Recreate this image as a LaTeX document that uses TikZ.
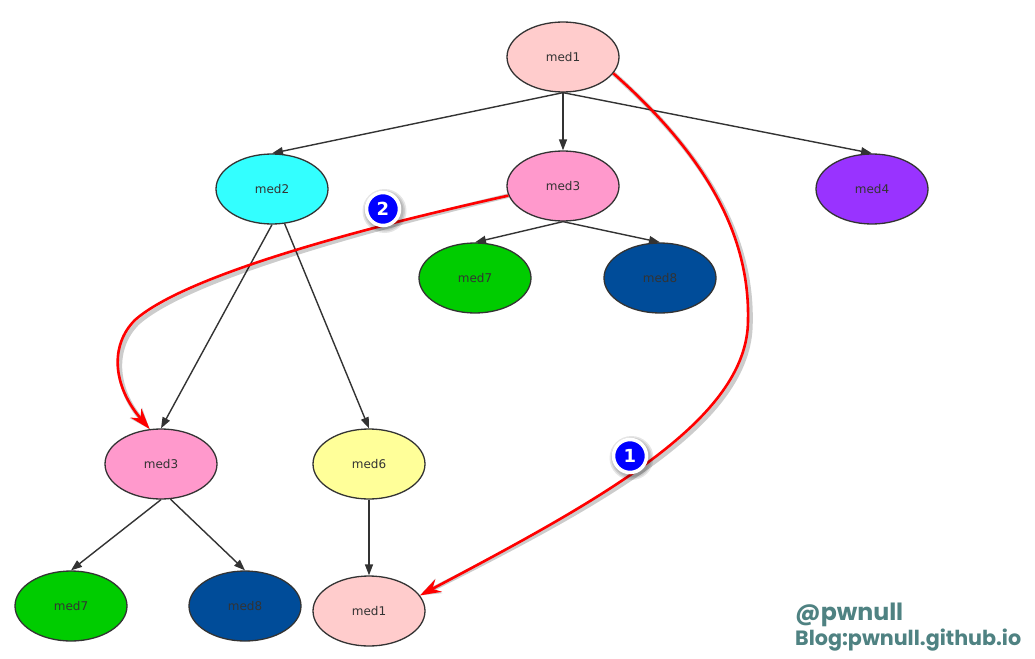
\documentclass[tikz,border=0pt]{standalone}
\usepackage{fontspec}
\setmainfont{DejaVu Sans}
\newfontfamily\wmfont{Poppins}
\usetikzlibrary{shapes.geometric,arrows.meta}
\definecolor{cmedA}{HTML}{FFCCCC}
\definecolor{cmedB}{HTML}{33FFFF}
\definecolor{cmedC}{HTML}{FF99CC}
\definecolor{cmedD}{HTML}{9933FF}
\definecolor{cmedG}{HTML}{00CC00}
\definecolor{cmedH}{HTML}{004C99}
\definecolor{cmedF}{HTML}{FFFF99}
\definecolor{edgecol}{HTML}{333333}
\definecolor{wmcol}{HTML}{4F8282}
\tikzset{
  med/.style={ellipse,draw=edgecol,line width=1.3pt,minimum width=112pt,minimum height=70pt,inner sep=0pt,text=edgecol,font=\fontsize{12}{14}\selectfont},
  tree/.style={draw=edgecol,line width=1.4pt,-{Triangle[length=11pt,width=8pt]}},
  redarrow/.style={draw=red,line width=2.6pt,-{Stealth[length=21pt,width=14pt,inset=7pt]}},
  redshadow/.style={draw=black,opacity=0.2,line width=4.5pt,-{Stealth[length=21pt,width=16pt,inset=7pt]}},
  badge/.style={circle,fill=blue,draw=white,line width=3.5pt,minimum size=33pt,inner sep=0pt,text=white,font=\bfseries\fontsize{18}{18}\selectfont},
  glow/.style={circle,fill=black,opacity=0.1,inner sep=0pt}
}
\begin{document}
\begin{tikzpicture}[x=1pt,y=-1pt]
\useasboundingbox (0,0) rectangle (1035,658);
\fill[white] (0,0) rectangle (1035,658);
% nodes
\node[med,fill=cmedA] (m1t) at (563,57) {med1};
\node[med,fill=cmedB] (m2) at (272,189) {med2};
\node[med,fill=cmedC] (m3t) at (563,186) {med3};
\node[med,fill=cmedD] (m4) at (872,189) {med4};
\node[med,fill=cmedG] (m7t) at (475,278) {med7};
\node[med,fill=cmedH] (m8t) at (660,278) {med8};
\node[med,fill=cmedC] (m3b) at (161,464) {med3};
\node[med,fill=cmedF] (m6) at (369,464) {med6};
\node[med,fill=cmedG] (m7b) at (71,606) {med7};
\node[med,fill=cmedH] (m8b) at (245,606) {med8};
\node[med,fill=cmedA] (m1b) at (369,611) {med1};
% tree edges
\draw[tree] (m1t.south) -- (m2.north);
\draw[tree] (m1t.south) -- (m3t.north);
\draw[tree] (m1t.south) -- (m4.north);
\draw[tree] (m3t.south) -- (m7t.north);
\draw[tree] (m3t.south) -- (m8t.north);
\draw[tree] (m2.south) -- (m3b.north);
\draw[tree] (m2.-70) -- (m6.north);
\draw[tree] (m3b.south) -- (m7b.north);
\draw[tree] (m3b.-75) -- (m8b.north);
\draw[tree] (m6.south) -- (m1b.north);
% red curves with shadows
\begin{scope}[shift={(2.5,3)}]
\draw[redshadow] (m1t.-18) .. controls (700,150) and (750,230) .. (748,320) .. controls (748,420) and (600,500) .. (m1b.17);
\draw[redshadow] (m3t.-170) .. controls (330,235) and (180,280) .. (135,320) .. controls (110,345) and (112,385) .. (m3b.108);
\end{scope}
\draw[redarrow] (m1t.-18) .. controls (700,150) and (750,230) .. (748,320) .. controls (748,420) and (600,500) .. (m1b.17);
\draw[redarrow] (m3t.-170) .. controls (330,235) and (180,280) .. (135,320) .. controls (110,345) and (112,385) .. (m3b.108);
% badges
\node[glow,minimum size=44pt] (g2a) at (384.5,211) {};
\node[glow,minimum size=41pt] (g2b) at (384.5,211) {};
\node[glow,minimum size=38pt] (g2c) at (384.5,211) {};
\node[badge] (b2) at (383,209) {2};
\node[glow,minimum size=44pt] (g1a) at (631.5,458) {};
\node[glow,minimum size=41pt] (g1b) at (631.5,458) {};
\node[glow,minimum size=38pt] (g1c) at (631.5,458) {};
\node[badge] (b1) at (630,456) {1};
% watermark
\node[anchor=west,inner sep=0pt,text=wmcol] (wm1) at (795,615) {\resizebox{108pt}{!}{\wmfont\bfseries @pwnull}};
\node[anchor=west,inner sep=0pt,text=wmcol] (wm2) at (795,640) {\resizebox{226pt}{!}{\wmfont\bfseries Blog:pwnull.github.io}};
\end{tikzpicture}
\end{document}
